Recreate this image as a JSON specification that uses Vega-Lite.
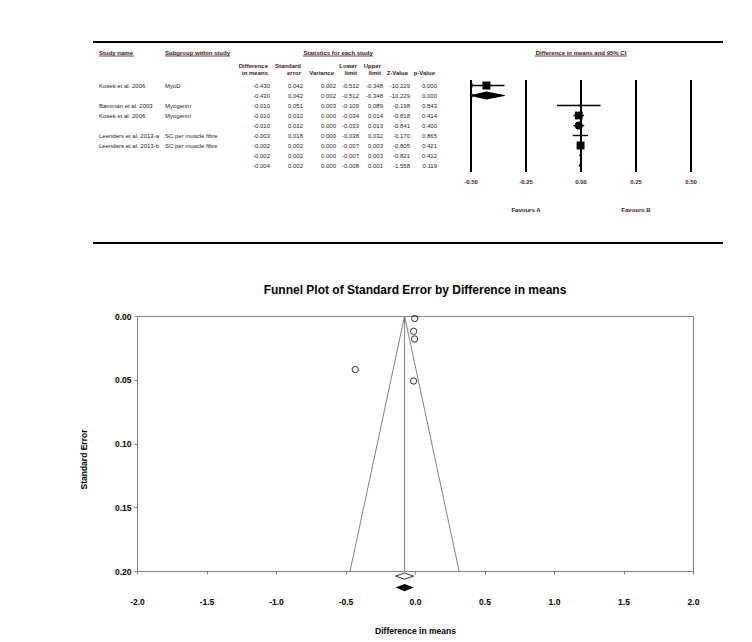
{
  "$schema": "https://vega.github.io/schema/vega-lite/v6.json",
  "padding": {"left": 78, "top": 41, "right": 0, "bottom": 0},
  "background": "white",
  "config": {
    "font": "Liberation Sans",
    "locale": {"number": {"decimal": ".", "thousands": ",", "grouping": [3], "currency": ["$", ""], "minus": "-"}},
    "view": {"stroke": null}
  },
  "datasets": {
    "studies": [
      {"i": 0, "study": "Kosek et al. 2006", "subgroup": "MyoD", "diff": -0.430, "se": 0.042, "var": 0.002, "lower": -0.512, "upper": -0.348, "z": -10.229, "p": 0.000, "type": "study", "weight": 100},
      {"i": 1, "study": "", "subgroup": "", "diff": -0.430, "se": 0.042, "var": 0.002, "lower": -0.512, "upper": -0.348, "z": -10.229, "p": 0.000, "type": "combined", "weight": 100},
      {"i": 2, "study": "Bamman et al. 2003", "subgroup": "Myogenin", "diff": -0.010, "se": 0.051, "var": 0.003, "lower": -0.109, "upper": 0.089, "z": -0.198, "p": 0.843, "type": "study", "weight": 5.3},
      {"i": 3, "study": "Kosek et al. 2006", "subgroup": "Myogenin", "diff": -0.010, "se": 0.012, "var": 0.000, "lower": -0.034, "upper": 0.014, "z": -0.818, "p": 0.414, "type": "study", "weight": 94.7},
      {"i": 4, "study": "", "subgroup": "", "diff": -0.010, "se": 0.012, "var": 0.000, "lower": -0.033, "upper": 0.013, "z": -0.841, "p": 0.400, "type": "combined", "weight": 100},
      {"i": 5, "study": "Leenders et al. 2013-a", "subgroup": "SC per muscle fibre", "diff": -0.003, "se": 0.018, "var": 0.000, "lower": -0.038, "upper": 0.032, "z": -0.170, "p": 0.865, "type": "study", "weight": 1.2},
      {"i": 6, "study": "Leenders et al. 2013-b", "subgroup": "SC per muscle fibre", "diff": -0.002, "se": 0.002, "var": 0.000, "lower": -0.007, "upper": 0.003, "z": -0.805, "p": 0.421, "type": "study", "weight": 98.8},
      {"i": 7, "study": "", "subgroup": "", "diff": -0.002, "se": 0.002, "var": 0.000, "lower": -0.007, "upper": 0.003, "z": -0.821, "p": 0.412, "type": "combined", "weight": 100},
      {"i": 8, "study": "", "subgroup": "", "diff": -0.004, "se": 0.002, "var": 0.000, "lower": -0.008, "upper": 0.001, "z": -1.558, "p": 0.119, "type": "combined", "weight": 100}
    ],
    "headers": [
      {"c": 2, "line": 1, "t": "Difference"}, {"c": 3, "line": 1, "t": "Standard"}, {"c": 5, "line": 1, "t": "Lower"}, {"c": 6, "line": 1, "t": "Upper"},
      {"c": 2, "line": 2, "t": "in means"}, {"c": 3, "line": 2, "t": "error"}, {"c": 4, "line": 2, "t": "Variance"}, {"c": 5, "line": 2, "t": "limit"}, {"c": 6, "line": 2, "t": "limit"}, {"c": 7, "line": 2, "t": "Z-Value"}, {"c": 8, "line": 2, "t": "p-Value"}
    ],
    "ticks": [{"t": -0.5}, {"t": -0.25}, {"t": 0}, {"t": 0.25}, {"t": 0.5}],
    "favours": [{"t": -0.25, "label": "Favours A"}, {"t": 0.25, "label": "Favours B"}],
    "funnelLines": [{"x": -0.467, "se": 0.2}, {"x": -0.075, "se": 0}, {"x": 0.317, "se": 0.2}],
    "summary": [{"kind": "observed", "est": -0.075}, {"kind": "imputed", "est": -0.075}]
  },
  "align": "all",
  "bounds": "flush",
  "center": true,
  "spacing": 19,
  "vconcat": [
    {
      "width": 644,
      "height": 201,
      "view": {"stroke": null},
      "resolve": {"scale": {"x": "independent"}},
      "layer": [
        {
          "data": {"values": [{}]},
          "layer": [
            {"mark": {"type": "rule", "color": "black", "strokeWidth": 2},
             "encoding": {
               "x": {"datum": 0, "type": "quantitative", "scale": {"domain": [0, 1], "range": [0, 630], "nice": false, "zero": false}, "axis": null},
               "x2": {"datum": 1},
               "y": {"datum": -4.35, "type": "quantitative", "scale": {"domain": [-4.35, 15.75], "reverse": true, "nice": false, "zero": false}, "axis": null}}},
            {"mark": {"type": "rule", "color": "black", "strokeWidth": 2},
             "encoding": {
               "x": {"datum": 0, "type": "quantitative", "scale": {"domain": [0, 1], "range": [0, 630], "nice": false, "zero": false}, "axis": null},
               "x2": {"datum": 1},
               "y": {"datum": 15.75, "type": "quantitative", "scale": {"domain": [-4.35, 15.75], "reverse": true, "nice": false, "zero": false}, "axis": null}}}
          ]
        },
        {
          "data": {"name": "studies"},
          "layer": [
            {"mark": {"type": "text", "align": "left", "baseline": "middle", "fontSize": 6, "color": "#2e1a1a"},
             "encoding": {
               "x": {"datum": 0, "type": "quantitative", "scale": {"domain": [0, 1, 2, 3, 4, 5, 6, 7, 8], "range": [6, 72, 177, 210, 243, 266, 290, 317, 344], "nice": false, "zero": false}, "axis": null},
               "y": {"field": "i", "type": "quantitative", "scale": {"domain": [-4.35, 15.75], "reverse": true, "nice": false, "zero": false}, "axis": null},
               "text": {"field": "study"}}},
            {"mark": {"type": "text", "align": "left", "baseline": "middle", "fontSize": 6, "color": "#2e1a1a"},
             "encoding": {
               "x": {"datum": 1, "type": "quantitative", "scale": {"domain": [0, 1, 2, 3, 4, 5, 6, 7, 8], "range": [6, 72, 177, 210, 243, 266, 290, 317, 344], "nice": false, "zero": false}, "axis": null},
               "y": {"field": "i", "type": "quantitative", "scale": {"domain": [-4.35, 15.75], "reverse": true, "nice": false, "zero": false}, "axis": null},
               "text": {"field": "subgroup"}}},
            {"mark": {"type": "text", "align": "right", "baseline": "middle", "fontSize": 6, "color": "#2e1a1a"},
             "encoding": {
               "x": {"datum": 2, "type": "quantitative", "scale": {"domain": [0, 1, 2, 3, 4, 5, 6, 7, 8], "range": [6, 72, 177, 210, 243, 266, 290, 317, 344], "nice": false, "zero": false}, "axis": null},
               "y": {"field": "i", "type": "quantitative", "scale": {"domain": [-4.35, 15.75], "reverse": true, "nice": false, "zero": false}, "axis": null},
               "text": {"field": "diff", "type": "quantitative", "format": ".3f"}}},
            {"mark": {"type": "text", "align": "right", "baseline": "middle", "fontSize": 6, "color": "#2e1a1a"},
             "encoding": {
               "x": {"datum": 3, "type": "quantitative", "scale": {"domain": [0, 1, 2, 3, 4, 5, 6, 7, 8], "range": [6, 72, 177, 210, 243, 266, 290, 317, 344], "nice": false, "zero": false}, "axis": null},
               "y": {"field": "i", "type": "quantitative", "scale": {"domain": [-4.35, 15.75], "reverse": true, "nice": false, "zero": false}, "axis": null},
               "text": {"field": "se", "type": "quantitative", "format": ".3f"}}},
            {"mark": {"type": "text", "align": "right", "baseline": "middle", "fontSize": 6, "color": "#2e1a1a"},
             "encoding": {
               "x": {"datum": 4, "type": "quantitative", "scale": {"domain": [0, 1, 2, 3, 4, 5, 6, 7, 8], "range": [6, 72, 177, 210, 243, 266, 290, 317, 344], "nice": false, "zero": false}, "axis": null},
               "y": {"field": "i", "type": "quantitative", "scale": {"domain": [-4.35, 15.75], "reverse": true, "nice": false, "zero": false}, "axis": null},
               "text": {"field": "var", "type": "quantitative", "format": ".3f"}}},
            {"mark": {"type": "text", "align": "right", "baseline": "middle", "fontSize": 6, "color": "#2e1a1a"},
             "encoding": {
               "x": {"datum": 5, "type": "quantitative", "scale": {"domain": [0, 1, 2, 3, 4, 5, 6, 7, 8], "range": [6, 72, 177, 210, 243, 266, 290, 317, 344], "nice": false, "zero": false}, "axis": null},
               "y": {"field": "i", "type": "quantitative", "scale": {"domain": [-4.35, 15.75], "reverse": true, "nice": false, "zero": false}, "axis": null},
               "text": {"field": "lower", "type": "quantitative", "format": ".3f"}}},
            {"mark": {"type": "text", "align": "right", "baseline": "middle", "fontSize": 6, "color": "#2e1a1a"},
             "encoding": {
               "x": {"datum": 6, "type": "quantitative", "scale": {"domain": [0, 1, 2, 3, 4, 5, 6, 7, 8], "range": [6, 72, 177, 210, 243, 266, 290, 317, 344], "nice": false, "zero": false}, "axis": null},
               "y": {"field": "i", "type": "quantitative", "scale": {"domain": [-4.35, 15.75], "reverse": true, "nice": false, "zero": false}, "axis": null},
               "text": {"field": "upper", "type": "quantitative", "format": ".3f"}}},
            {"mark": {"type": "text", "align": "right", "baseline": "middle", "fontSize": 6, "color": "#2e1a1a"},
             "encoding": {
               "x": {"datum": 7, "type": "quantitative", "scale": {"domain": [0, 1, 2, 3, 4, 5, 6, 7, 8], "range": [6, 72, 177, 210, 243, 266, 290, 317, 344], "nice": false, "zero": false}, "axis": null},
               "y": {"field": "i", "type": "quantitative", "scale": {"domain": [-4.35, 15.75], "reverse": true, "nice": false, "zero": false}, "axis": null},
               "text": {"field": "z", "type": "quantitative", "format": ".3f"}}},
            {"mark": {"type": "text", "align": "right", "baseline": "middle", "fontSize": 6, "color": "#2e1a1a"},
             "encoding": {
               "x": {"datum": 8, "type": "quantitative", "scale": {"domain": [0, 1, 2, 3, 4, 5, 6, 7, 8], "range": [6, 72, 177, 210, 243, 266, 290, 317, 344], "nice": false, "zero": false}, "axis": null},
               "y": {"field": "i", "type": "quantitative", "scale": {"domain": [-4.35, 15.75], "reverse": true, "nice": false, "zero": false}, "axis": null},
               "text": {"field": "p", "type": "quantitative", "format": ".3f"}}},
            {"data": {"name": "headers"},
             "transform": [{"filter": "datum.line === 1"}],
             "mark": {"type": "text", "align": "right", "baseline": "middle", "fontSize": 6, "fontWeight": "bold", "dx": -2, "color": "#3a1818"},
             "encoding": {
               "x": {"field": "c", "type": "quantitative", "scale": {"domain": [0, 1, 2, 3, 4, 5, 6, 7, 8], "range": [6, 72, 177, 210, 243, 266, 290, 317, 344], "nice": false, "zero": false}, "axis": null},
               "y": {"datum": -1.95, "type": "quantitative", "scale": {"domain": [-4.35, 15.75], "reverse": true, "nice": false, "zero": false}, "axis": null},
               "text": {"field": "t"}}},
            {"data": {"name": "headers"},
             "transform": [{"filter": "datum.line === 2"}],
             "mark": {"type": "text", "align": "right", "baseline": "middle", "fontSize": 6, "fontWeight": "bold", "dx": -2, "color": "#3a1818"},
             "encoding": {
               "x": {"field": "c", "type": "quantitative", "scale": {"domain": [0, 1, 2, 3, 4, 5, 6, 7, 8], "range": [6, 72, 177, 210, 243, 266, 290, 317, 344], "nice": false, "zero": false}, "axis": null},
               "y": {"datum": -1.25, "type": "quantitative", "scale": {"domain": [-4.35, 15.75], "reverse": true, "nice": false, "zero": false}, "axis": null},
               "text": {"field": "t"}}},
            {"data": {"values": [{"c": 0, "c2": 0.53, "t": "Study name"}, {"c": 1, "c2": 1.62, "t": "Subgroup within study"}]},
             "layer": [
               {"mark": {"type": "text", "align": "left", "baseline": "middle", "fontSize": 6, "fontWeight": "bold", "color": "#3a1818"},
                "encoding": {
                  "x": {"field": "c", "type": "quantitative", "scale": {"domain": [0, 1, 2, 3, 4, 5, 6, 7, 8], "range": [6, 72, 177, 210, 243, 266, 290, 317, 344], "nice": false, "zero": false}, "axis": null},
                  "y": {"datum": -3.3, "type": "quantitative", "scale": {"domain": [-4.35, 15.75], "reverse": true, "nice": false, "zero": false}, "axis": null},
                  "text": {"field": "t"}}},
               {"mark": {"type": "rule", "color": "#3a1818", "strokeWidth": 0.8},
                "encoding": {
                  "x": {"field": "c", "type": "quantitative", "scale": {"domain": [0, 1, 2, 3, 4, 5, 6, 7, 8], "range": [6, 72, 177, 210, 243, 266, 290, 317, 344], "nice": false, "zero": false}, "axis": null},
                  "x2": {"field": "c2"},
                  "y": {"datum": -2.95, "type": "quantitative", "scale": {"domain": [-4.35, 15.75], "reverse": true, "nice": false, "zero": false}, "axis": null}}}
             ]},
            {"data": {"values": [{}]},
             "layer": [
               {"mark": {"type": "text", "align": "center", "baseline": "middle", "fontSize": 6, "fontWeight": "bold", "color": "#3a1818", "text": "Statistics for each study"},
                "encoding": {
                  "x": {"datum": 4.09, "type": "quantitative", "scale": {"domain": [0, 1, 2, 3, 4, 5, 6, 7, 8], "range": [6, 72, 177, 210, 243, 266, 290, 317, 344], "nice": false, "zero": false}, "axis": null},
                  "y": {"datum": -3.3, "type": "quantitative", "scale": {"domain": [-4.35, 15.75], "reverse": true, "nice": false, "zero": false}, "axis": null}}},
               {"mark": {"type": "rule", "color": "#3a1818", "strokeWidth": 0.8},
                "encoding": {
                  "x": {"datum": 3, "type": "quantitative", "scale": {"domain": [0, 1, 2, 3, 4, 5, 6, 7, 8], "range": [6, 72, 177, 210, 243, 266, 290, 317, 344], "nice": false, "zero": false}, "axis": null},
                  "x2": {"datum": 5.58},
                  "y": {"datum": -2.95, "type": "quantitative", "scale": {"domain": [-4.35, 15.75], "reverse": true, "nice": false, "zero": false}, "axis": null}}}
             ]}
          ]
        },
        {
          "data": {"name": "studies"},
          "layer": [
            {"data": {"name": "ticks"},
             "mark": {"type": "rule", "color": "black", "strokeWidth": 2},
             "encoding": {
               "x": {"field": "t", "type": "quantitative", "scale": {"domain": [-0.5, 0.5], "range": [378, 598], "clamp": true, "nice": false, "zero": false}, "axis": null},
               "y": {"datum": -0.55, "type": "quantitative", "scale": {"domain": [-4.35, 15.75], "reverse": true, "nice": false, "zero": false}, "axis": null},
               "y2": {"datum": 8.65}}},
            {"data": {"name": "ticks"},
             "mark": {"type": "text", "align": "center", "baseline": "middle", "fontSize": 6, "fontWeight": "bold", "color": "#4a1c1c"},
             "encoding": {
               "x": {"field": "t", "type": "quantitative", "scale": {"domain": [-0.5, 0.5], "range": [378, 598], "clamp": true, "nice": false, "zero": false}, "axis": null},
               "y": {"datum": 9.65, "type": "quantitative", "scale": {"domain": [-4.35, 15.75], "reverse": true, "nice": false, "zero": false}, "axis": null},
               "text": {"field": "t", "type": "quantitative", "format": ".2f"}}},
            {"data": {"name": "favours"},
             "mark": {"type": "text", "align": "center", "baseline": "middle", "fontSize": 6, "fontWeight": "bold", "color": "#3a1818"},
             "encoding": {
               "x": {"field": "t", "type": "quantitative", "scale": {"domain": [-0.5, 0.5], "range": [378, 598], "clamp": true, "nice": false, "zero": false}, "axis": null},
               "y": {"datum": 12.4, "type": "quantitative", "scale": {"domain": [-4.35, 15.75], "reverse": true, "nice": false, "zero": false}, "axis": null},
               "text": {"field": "label"}}},
            {"data": {"values": [{}]},
             "mark": {"type": "text", "align": "center", "baseline": "middle", "fontSize": 6, "fontWeight": "bold", "color": "#3a1818", "text": "Difference in means and 95% CI"},
             "encoding": {
               "x": {"datum": 0, "type": "quantitative", "scale": {"domain": [-0.5, 0.5], "range": [378, 598], "clamp": true, "nice": false, "zero": false}, "axis": null},
               "y": {"datum": -3.3, "type": "quantitative", "scale": {"domain": [-4.35, 15.75], "reverse": true, "nice": false, "zero": false}, "axis": null}}},
            {"data": {"values": [{}]},
             "mark": {"type": "rule", "color": "#3a1818", "strokeWidth": 0.8},
             "encoding": {
               "x": {"datum": -0.21, "type": "quantitative", "scale": {"domain": [-0.5, 0.5], "range": [378, 598], "clamp": true, "nice": false, "zero": false}, "axis": null},
               "x2": {"datum": 0.21},
               "y": {"datum": -2.95, "type": "quantitative", "scale": {"domain": [-4.35, 15.75], "reverse": true, "nice": false, "zero": false}, "axis": null}}},
            {"transform": [{"filter": "datum.type === 'study'"}],
             "mark": {"type": "rule", "color": "black", "strokeWidth": 1.4},
             "encoding": {
               "x": {"field": "lower", "type": "quantitative", "scale": {"domain": [-0.5, 0.5], "range": [378, 598], "clamp": true, "nice": false, "zero": false}, "axis": null},
               "x2": {"field": "upper"},
               "y": {"field": "i", "type": "quantitative", "scale": {"domain": [-4.35, 15.75], "reverse": true, "nice": false, "zero": false}, "axis": null}}},
            {"transform": [{"filter": "datum.type === 'study'"}],
             "mark": {"type": "point", "shape": "square", "filled": true, "color": "black", "opacity": 1},
             "encoding": {
               "x": {"field": "diff", "type": "quantitative", "scale": {"domain": [-0.5, 0.5], "range": [378, 598], "clamp": true, "nice": false, "zero": false}, "axis": null},
               "y": {"field": "i", "type": "quantitative", "scale": {"domain": [-4.35, 15.75], "reverse": true, "nice": false, "zero": false}, "axis": null},
               "size": {"field": "weight", "type": "quantitative", "scale": {"domain": [0, 100], "range": [0, 64], "zero": true}, "legend": null}}},
            {"transform": [{"filter": "datum.lower < -0.5"}],
             "mark": {"type": "point", "shape": "triangle-left", "filled": true, "color": "black", "size": 18, "opacity": 1},
             "encoding": {
               "x": {"field": "lower", "type": "quantitative", "scale": {"domain": [-0.5, 0.5], "range": [378, 598], "clamp": true, "nice": false, "zero": false}, "axis": null},
               "y": {"field": "i", "type": "quantitative", "scale": {"domain": [-4.35, 15.75], "reverse": true, "nice": false, "zero": false}, "axis": null}}},
            {"transform": [{"filter": "datum.type === 'combined'"}, {"fold": ["lower", "diff", "upper"], "as": ["k", "v"]}],
             "mark": {"type": "trail", "color": "black"},
             "encoding": {
               "x": {"field": "v", "type": "quantitative", "scale": {"domain": [-0.5, 0.5], "range": [378, 598], "clamp": true, "nice": false, "zero": false}, "axis": null},
               "y": {"field": "i", "type": "quantitative", "scale": {"domain": [-4.35, 15.75], "reverse": true, "nice": false, "zero": false}, "axis": null},
               "detail": {"field": "i", "type": "nominal"},
               "order": {"field": "v", "type": "quantitative"},
               "size": {"condition": [{"test": "datum.k === 'diff' && datum.upper - datum.lower > 0.02", "value": 8}, {"test": "datum.k === 'diff'", "value": 2.5}], "value": 0}}}
          ]
        }
      ]
    },
    {
      "width": 556,
      "height": 255,
      "view": {"stroke": "#808080", "strokeWidth": 1},
      "title": {"text": "Funnel Plot of Standard Error by Difference in means", "fontSize": 12, "fontWeight": "bold", "color": "black", "offset": 15, "anchor": "middle"},
      "layer": [
        {"data": {"name": "funnelLines"},
         "mark": {"type": "line", "color": "#808080", "strokeWidth": 1},
         "encoding": {
           "x": {"field": "x", "type": "quantitative", "scale": {"domain": [-2, 2], "nice": false, "zero": false},
                 "axis": {"values": [-2, -1.5, -1, -0.5, 0, 0.5, 1, 1.5, 2], "format": ".1f", "title": "Difference in means", "grid": false, "domain": false, "tickSize": 3, "tickColor": "#808080", "labelFontSize": 8.5, "labelFontWeight": "bold", "labelColor": "black", "labelPadding": 23, "labelFlush": false, "labelOverlap": false, "titleFontSize": 8.5, "titleFontWeight": "bold", "titleColor": "black", "titlePadding": 21}},
           "y": {"field": "se", "type": "quantitative", "scale": {"domain": [0, 0.2], "reverse": true, "nice": false, "zero": false},
                 "axis": {"values": [0, 0.05, 0.1, 0.15, 0.2], "format": ".2f", "title": "Standard Error", "grid": false, "domain": false, "tickSize": 3, "tickColor": "#808080", "labelFontSize": 8.5, "labelFontWeight": "bold", "labelColor": "black", "labelPadding": 3, "labelOverlap": false, "labelFlush": false, "titleFontSize": 8.5, "titleFontWeight": "bold", "titleColor": "black", "titlePadding": 26, "titleY": 143}},
           "order": {"field": "x", "type": "quantitative"}}},
        {"data": {"values": [{}]},
         "mark": {"type": "rule", "color": "#808080", "strokeWidth": 1},
         "encoding": {
           "x": {"datum": -0.075, "type": "quantitative"},
           "y": {"datum": 0, "type": "quantitative"},
           "y2": {"datum": 0.2}}},
        {"data": {"name": "studies"},
         "transform": [{"filter": "datum.type === 'study'"}],
         "mark": {"type": "point", "shape": "circle", "size": 40, "filled": false, "color": "black", "strokeWidth": 0.8, "opacity": 1},
         "encoding": {
           "x": {"field": "diff", "type": "quantitative"},
           "y": {"field": "se", "type": "quantitative"}}},
        {"data": {"name": "summary"},
         "transform": [{"filter": "datum.kind === 'observed'"}],
         "mark": {"type": "point", "shape": "M-1,0L0,-0.34L1,0L0,0.34Z", "size": 324, "filled": true, "fill": "white", "stroke": "black", "strokeWidth": 0.8, "opacity": 1, "clip": false},
         "encoding": {
           "x": {"field": "est", "type": "quantitative"},
           "y": {"datum": 0.204, "type": "quantitative"}}},
        {"data": {"name": "summary"},
         "transform": [{"filter": "datum.kind === 'imputed'"}],
         "mark": {"type": "point", "shape": "M-1,0L0,-0.4L1,0L0,0.4Z", "size": 324, "filled": true, "color": "black", "opacity": 1, "clip": false},
         "encoding": {
           "x": {"field": "est", "type": "quantitative"},
           "y": {"datum": 0.213, "type": "quantitative"}}}
      ]
    }
  ]
}
